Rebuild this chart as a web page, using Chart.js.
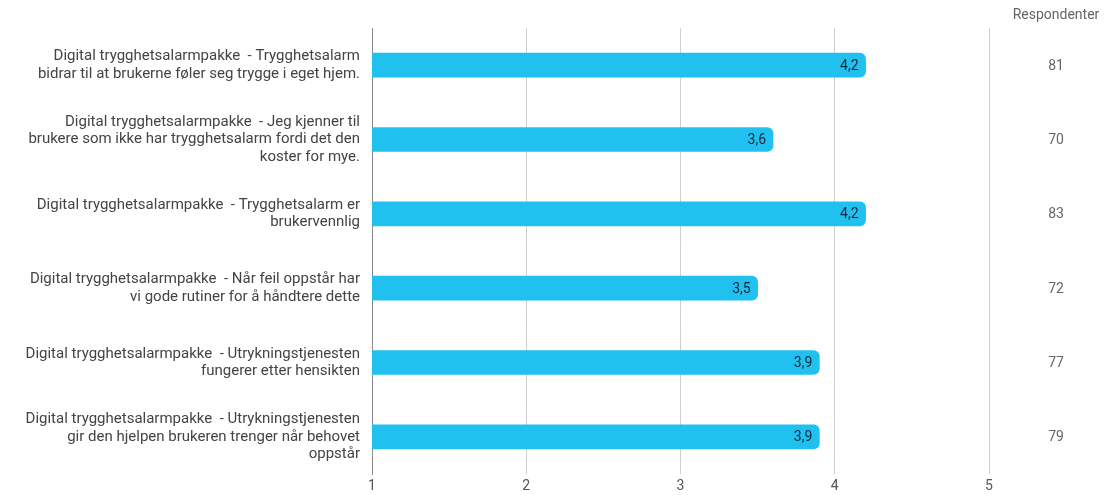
<!DOCTYPE html>
<html>
<head>
<meta charset="utf-8">
<script src="https://cdn.jsdelivr.net/npm/chart.js@4"></script>
<style>
  html, body { margin: 0; padding: 0; background: #fff; }
  #wrap { width: 1105px; height: 495px; }
</style>
</head>
<body>
<div id="wrap"><canvas id="chart"></canvas></div>
<script>
// chart data
const categories = [
    ['Digital trygghetsalarmpakke  - Trygghetsalarm', 'bidrar til at brukerne føler seg trygge i eget hjem.'],
    ['Digital trygghetsalarmpakke  - Jeg kjenner til', 'brukere som ikke har trygghetsalarm fordi det den', 'koster for mye.'],
    ['Digital trygghetsalarmpakke  - Trygghetsalarm er', 'brukervennlig'],
    ['Digital trygghetsalarmpakke  - Når feil oppstår har', 'vi gode rutiner for å håndtere dette'],
    ['Digital trygghetsalarmpakke  - Utrykningstjenesten', 'fungerer etter hensikten'],
    ['Digital trygghetsalarmpakke  - Utrykningstjenesten', 'gir den hjelpen brukeren trenger når behovet', 'oppstår']
];
const averages = [4.2, 3.6, 4.2, 3.5, 3.9, 3.9];
const respondents = [81, 70, 83, 72, 77, 79];
const xTicks = [1, 2, 3, 4, 5];
const respondentsTitle = 'Respondenter';

const fmt = v => v.toFixed(1).replace('.', ',');

// value labels inside the bar ends + respondent column on the right
const extrasPlugin = {
    id: 'extras',
    afterDatasetsDraw(chart) {
        const ctx = chart.ctx;
        const meta = chart.getDatasetMeta(0);
        const yScale = chart.scales.y;
        ctx.save();
        ctx.font = '14px Roboto';
        ctx.textBaseline = 'middle';
        ctx.textAlign = 'right';
        ctx.fillStyle = '#14293d';
        meta.data.forEach((bar, i) => {
            ctx.fillText(fmt(averages[i]), bar.x - 7, bar.y + 1);
        });
        ctx.textAlign = 'center';
        ctx.fillStyle = '#666';
        ctx.fillText(respondentsTitle, 1056, 15);
        respondents.forEach((n, i) => {
            ctx.fillText(String(n), 1056, yScale.getPixelForValue(i) + 1);
        });
        ctx.restore();
    }
};

new Chart(document.getElementById('chart'), {
    type: 'bar',
    data: {
        labels: categories,
        datasets: [{
            data: averages,
            backgroundColor: '#20c1ef',
            borderRadius: { topRight: 6, bottomRight: 6 },
            borderSkipped: false,
            barThickness: 24
        }]
    },
    options: {
        indexAxis: 'y',
        responsive: true,
        maintainAspectRatio: false,
        animation: false,
        layout: { padding: { top: 28, right: 116, bottom: 0, left: 0 } },
        plugins: {
            legend: { display: false },
            tooltip: { enabled: false }
        },
        scales: {
            x: {
                min: 1,
                max: 5,
                afterBuildTicks: scale => { scale.ticks = xTicks.map(v => ({ value: v })); },
                afterFit: scale => {
                    scale.height = 21;
                    scale.paddingLeft = 0;
                    scale.paddingRight = 0;
                },
                grid: { color: '#cfcfcf', drawTicks: false },
                border: { display: false },
                ticks: { color: '#555', font: { family: 'Roboto', size: 14 }, padding: 4 }
            },
            y: {
                afterFit: scale => {
                    scale.width = 372;
                    scale.paddingTop = 0;
                    scale.paddingBottom = 0;
                },
                grid: { display: false, drawTicks: false },
                border: { color: '#8a8a8a' },
                ticks: {
                    color: '#444',
                    font: { family: 'Roboto', size: 15, lineHeight: 1.15 },
                    padding: 12
                }
            }
        }
    },
    plugins: [extrasPlugin]
});
</script>
</body>
</html>
